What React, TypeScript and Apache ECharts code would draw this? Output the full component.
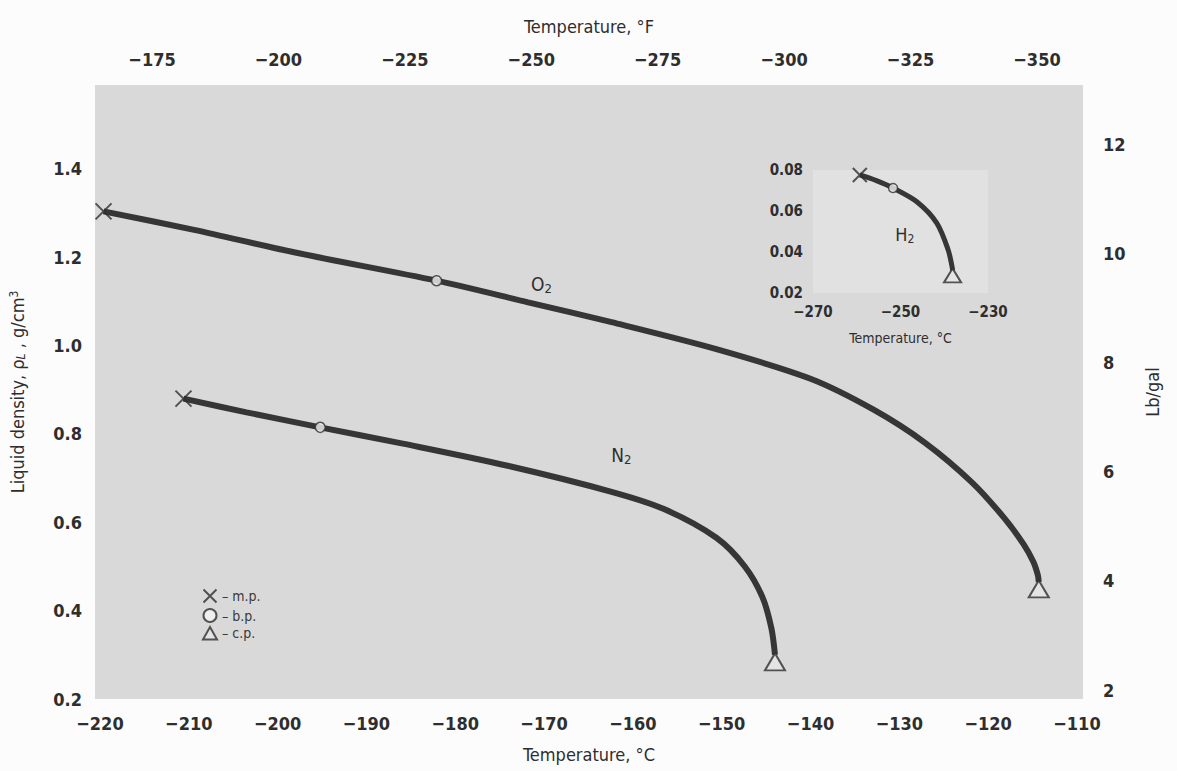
import React, { useEffect, useRef } from "react";
import * as echarts from "echarts";

// ---- tick labels ----
const celsiusTicks = [-220, -210, -200, -190, -180, -170, -160, -150, -140, -130, -120, -110];
const fahrenheitTicks = [-175, -200, -225, -250, -275, -300, -325, -350];
const lbGalTicks = [2, 4, 6, 8, 10, 12];
const insetTempTicks = [-270, -250, -230];

// ---- O2 saturated liquid density (°C, g/cm3) ----
const o2Temp = [-219.6, -209.4, -197.6, -182.1, -171.8, -162.4, -150.6, -140.0, -132.9, -127.1, -121.8, -118.2, -116.0, -114.9, -114.4, -114.3];
const o2Density = [1.304, 1.262, 1.209, 1.147, 1.098, 1.053, 0.992, 0.925, 0.855, 0.78, 0.69, 0.61, 0.55, 0.51, 0.48, 0.465];
const o2Boiling = [-182.1, 1.147];

// ---- N2 ----
const n2Temp = [-210.6, -203.5, -195.2, -185.9, -174.1, -162.4, -156.5, -150.6, -147.4, -145.4, -144.4, -144.0];
const n2Density = [0.88, 0.849, 0.815, 0.778, 0.728, 0.669, 0.63, 0.565, 0.5, 0.43, 0.36, 0.3];
const n2Boiling = [-195.2, 0.815];

// ---- H2 (inset) ----
const h2Temp = [-259.3, -255.5, -251.7, -246.2, -241.7, -239.1, -238.2, -238.1];
const h2Density = [0.0776, 0.0748, 0.0712, 0.0644, 0.0541, 0.041, 0.0327, 0.031];
const h2Boiling = [-251.7, 0.0712];

const FONT = "'Liberation Sans Narrow', 'DejaVu Sans Condensed', 'Liberation Sans', sans-serif";
const INK = "#2e2e2e";

const zip = (a: number[], b: number[]) => a.map((v, i) => [v, b[i]]);
const last = (a: number[]) => a[a.length - 1];
const minus = (v: number) => String(v).replace("-", "−");

const crossPath = "path://M0,0L10,10M10,0L0,10";
const triPath = "path://M5,0L10,9L0,9Z";

export default function App() {
  const ref = useRef<HTMLDivElement>(null);
  useEffect(() => {
    if (!ref.current) return;
    const chart = echarts.init(ref.current, undefined, { renderer: "svg" });
    const tickStyle = { color: INK, fontFamily: FONT, fontSize: 18, fontWeight: "bold" as const };
    const titleStyle = { color: INK, fontFamily: FONT, fontSize: 18 };
    const lineStyle = { color: "#363636", width: 6 };
    const markerItem = { color: "none", borderColor: INK, borderWidth: 2 };
    const subRich = (size: number) => ({
      s: { fontSize: size, verticalAlign: "bottom", padding: [9, 0, 0, 0], color: INK, fontFamily: FONT },
    });
    const option: any = {
      animation: false,
      backgroundColor: "#fcfcfc",
      textStyle: { fontFamily: FONT },
      legend: {
        data: ["m.p.", "b.p.", "c.p."],
        orient: "vertical",
        left: 196,
        top: 582,
        itemWidth: 14,
        itemHeight: 13,
        itemGap: 3,
        formatter: (n: string) => "– " + n,
        textStyle: { color: "#3a3a3a", fontFamily: FONT, fontSize: 14 },
        selectedMode: false,
      },
      grid: [
        { left: 95, right: 94, top: 85, bottom: 72, show: true, backgroundColor: "#d9d9d9", borderWidth: 0 },
        { left: 813, width: 175, top: 170, height: 123, show: true, backgroundColor: "#e1e1e1", borderWidth: 0 },
      ],
      xAxis: [
        {
          gridIndex: 0, type: "value", position: "bottom", min: -220.56, max: -109.32,
          axisLine: { show: false }, axisTick: { show: false }, splitLine: { show: false },
          axisLabel: { ...tickStyle, customValues: celsiusTicks, margin: 15, formatter: minus },
          name: "Temperature, °C", nameLocation: "middle", nameGap: 46,
          nameTextStyle: titleStyle,
        },
        {
          gridIndex: 0, type: "value", position: "top", min: -359.1, max: -163.73, inverse: true,
          axisLine: { show: false }, axisTick: { show: false }, splitLine: { show: false },
          axisLabel: { ...tickStyle, customValues: fahrenheitTicks, margin: 17, formatter: minus },
          name: "Temperature, °F", nameLocation: "middle", nameGap: 50,
          nameTextStyle: titleStyle,
        },
        {
          gridIndex: 1, type: "value", min: -270, max: -230,
          axisLine: { show: false }, axisTick: { show: false }, splitLine: { show: false },
          axisLabel: { color: INK, fontFamily: FONT, fontSize: 15, fontWeight: "bold", customValues: insetTempTicks, margin: 11, formatter: minus },
          name: "Temperature, °C", nameLocation: "middle", nameGap: 38,
          nameTextStyle: { color: INK, fontFamily: FONT, fontSize: 14 },
        },
      ],
      yAxis: [
        {
          gridIndex: 0, type: "value", position: "left", min: 0.2, max: 1.59, interval: 0.2,
          axisLine: { show: false }, axisTick: { show: false }, splitLine: { show: false },
          axisLabel: { ...tickStyle, margin: 13, showMaxLabel: false, formatter: (v: number) => v.toFixed(1) },
          name: "Liquid density, ρ{i|L} , g/cm{sup|3}", nameLocation: "middle", nameGap: 68, nameRotate: 90,
          nameTextStyle: {
            ...titleStyle,
            rich: {
              i: { fontStyle: "italic", fontSize: 12, verticalAlign: "bottom", color: INK, fontFamily: FONT, padding: [7, 0, 0, 0] },
              sup: { fontSize: 12, verticalAlign: "top", color: INK, fontFamily: FONT, padding: [0, 0, 7, 0] },
            },
          },
        },
        {
          gridIndex: 0, type: "value", position: "right", min: 1.835, max: 13.1,
          axisLine: { show: false }, axisTick: { show: false }, splitLine: { show: false },
          axisLabel: { ...tickStyle, customValues: lbGalTicks, margin: 20 },
          name: "Lb/gal", nameLocation: "middle", nameGap: 60, nameRotate: 90,
          nameTextStyle: titleStyle,
        },
        {
          gridIndex: 1, type: "value", min: 0.02, max: 0.08, interval: 0.02,
          axisLine: { show: false }, axisTick: { show: false }, splitLine: { show: false },
          axisLabel: { color: INK, fontFamily: FONT, fontSize: 15, fontWeight: "bold", margin: 10, formatter: (v: number) => v.toFixed(2) },
        },
      ],
      series: [
        {
          name: "O2", type: "line", xAxisIndex: 0, yAxisIndex: 0, data: zip(o2Temp, o2Density),
          smooth: 0.3, showSymbol: false, lineStyle, z: 2,
          markPoint: {
            symbol: "circle", symbolSize: 0,
            data: [{ coord: [-170.3, 1.14] }],
            label: { show: true, formatter: "O{s|2}", color: INK, fontFamily: FONT, fontSize: 19, rich: subRich(13) },
          },
        },
        {
          name: "N2", type: "line", xAxisIndex: 0, yAxisIndex: 0, data: zip(n2Temp, n2Density),
          smooth: 0.3, showSymbol: false, lineStyle, z: 2,
          markPoint: {
            symbol: "circle", symbolSize: 0,
            data: [{ coord: [-161.3, 0.752] }],
            label: { show: true, formatter: "N{s|2}", color: INK, fontFamily: FONT, fontSize: 19, rich: subRich(13) },
          },
        },
        {
          name: "H2", type: "line", xAxisIndex: 2, yAxisIndex: 2, data: zip(h2Temp, h2Density),
          smooth: 0.3, showSymbol: false, lineStyle: { color: "#363636", width: 5 }, z: 2,
          markPoint: {
            symbol: "circle", symbolSize: 0,
            data: [{ coord: [-249, 0.0485] }],
            label: { show: true, formatter: "H{s|2}", color: INK, fontFamily: FONT, fontSize: 18, rich: subRich(12) },
          },
        },
        {
          name: "m.p.", type: "scatter", xAxisIndex: 0, yAxisIndex: 0, symbol: crossPath, symbolSize: 16,
          itemStyle: markerItem, z: 5,
          data: [[o2Temp[0], o2Density[0]], [n2Temp[0], n2Density[0]]],
        },
        {
          name: "b.p.", type: "scatter", xAxisIndex: 0, yAxisIndex: 0, symbol: "circle", symbolSize: 10,
          itemStyle: { color: "#f4f4f4", borderColor: INK, borderWidth: 1.5 }, z: 5,
          data: [o2Boiling, n2Boiling],
        },
        {
          name: "c.p.", type: "scatter", xAxisIndex: 0, yAxisIndex: 0, symbol: triPath, symbolSize: [20, 17],
          symbolOffset: [0, 7],
          itemStyle: { color: "#e6e6e6", borderColor: INK, borderWidth: 2 }, z: 5,
          data: [[last(o2Temp), last(o2Density)], [last(n2Temp), last(n2Density)]],
        },
        {
          name: "m.p.", type: "scatter", xAxisIndex: 2, yAxisIndex: 2, symbol: crossPath, symbolSize: 14,
          itemStyle: markerItem, z: 5,
          data: [[h2Temp[0], h2Density[0]]],
        },
        {
          name: "b.p.", type: "scatter", xAxisIndex: 2, yAxisIndex: 2, symbol: "circle", symbolSize: 9,
          itemStyle: { color: "#f4f4f4", borderColor: INK, borderWidth: 1.5 }, z: 5,
          data: [h2Boiling],
        },
        {
          name: "c.p.", type: "scatter", xAxisIndex: 2, yAxisIndex: 2, symbol: triPath, symbolSize: [17, 14],
          symbolOffset: [0, 5],
          itemStyle: { color: "#e6e6e6", borderColor: INK, borderWidth: 2 }, z: 5,
          data: [[last(h2Temp), last(h2Density)]],
        },
      ],
    };
    chart.setOption(option);
    return () => chart.dispose();
  }, []);
  return <div ref={ref} style={{ position: "fixed", left: 0, top: 0, width: 1177, height: 771 }} />;
}
